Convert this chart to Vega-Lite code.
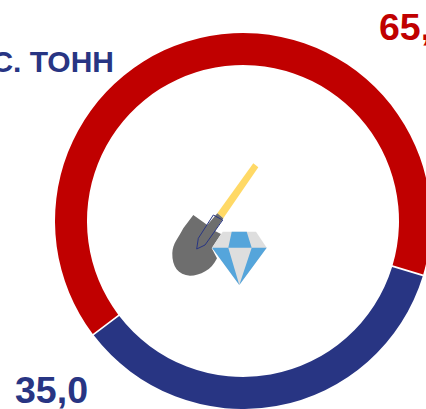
{
"$schema":"https://vega.github.io/schema/vega-lite/v6.json",
"width":366,"height":376,
"autosize":{"type":"none"},
"padding":{"left":60,"top":33,"right":0,"bottom":0},
"background":"white",
"view":{"stroke":null},
"layer":[
{"data":{"values":[{"segment":"синий","value":35,"rank":1},{"segment":"красный","value":65,"rank":2}]},
 "mark":{"type":"arc","radius":188,"radius2":156,"padAngle":0.007},
 "encoding":{
  "theta":{"field":"value","type":"quantitative","stack":true,"scale":{"range":[1.864,8.147]}},
  "order":{"field":"rank"},
  "color":{"field":"segment","type":"nominal","scale":{"domain":["синий","красный"],"range":["#283583","#c00000"]},"legend":null}
 }},
{"data":{"values":[{"part":"handle"}]},"mark":{"type":"point","filled":true,"opacity":1,"size":4,"color":"#ffd966","shape":"M10.3 -57.7L15.3 -53.7L-19.7 -2.7L-25.7 -7.7Z"},"encoding":{}},
{"data":{"values":[{"part":"blade"}]},"mark":{"type":"point","filled":true,"opacity":1,"size":4,"color":"#6e6e6e","shape":"M-49.7 -6L-35.7 4L-25.7 -7.7L-19.7 -2.7L-28 10L-22 13L-31.3 27.3L-26 37.3C-31.3 49 -43 54.7 -53 54.7C-64.7 54 -71 45.7 -70.7 32.3C-70.3 22.3 -64.7 17.3 -59.7 7.3Z"},"encoding":{}},
{"data":{"values":[{"part":"outline"}]},"mark":{"type":"point","filled":false,"opacity":1,"size":4,"stroke":"#283583","strokeWidth":1,"shape":"M-29.7 -6L-44.7 17.3L-46.3 28L-38 24L-20.3 -1Z"},"encoding":{}},
{"data":{"values":[{"part":"diamond"}]},"mark":{"type":"point","filled":true,"opacity":1,"size":4,"color":"#dedede","shape":"M-20.3 10.7L13 10.7L23.7 26.7L-3.7 64L-31 26.7Z"},"encoding":{}},
{"data":{"values":[{"part":"facets"}]},"mark":{"type":"point","filled":true,"opacity":1,"size":4,"color":"#55a5db","shape":"M-11.3 10.7L3.7 10.7L8.7 26.7L-14.7 26.7ZM-31 26.7L-14.7 26.7L-3.7 64ZM8.7 26.7L23.7 26.7L-3.7 64Z"},"encoding":{}},
{"data":{"values":[{"label":"65,0"}]},"mark":{"type":"text","x":319,"y":6.5,"align":"left","baseline":"alphabetic","font":"Liberation Sans","fontWeight":"bold","fontSize":37.5,"color":"#c00000"},"encoding":{"text":{"field":"label"}}},
{"data":{"values":[{"label":"35,0"}]},"mark":{"type":"text","x":-45,"y":370,"align":"left","baseline":"alphabetic","font":"Liberation Sans","fontWeight":"bold","fontSize":37.5,"color":"#283583"},"encoding":{"text":{"field":"label"}}},
{"data":{"values":[{"label":"ТЫС. ТОНН"}]},"mark":{"type":"text","x":54,"y":38.5,"align":"right","baseline":"alphabetic","font":"Liberation Sans","fontWeight":"bold","fontSize":30,"color":"#283583"},"encoding":{"text":{"field":"label"}}}
]
}
